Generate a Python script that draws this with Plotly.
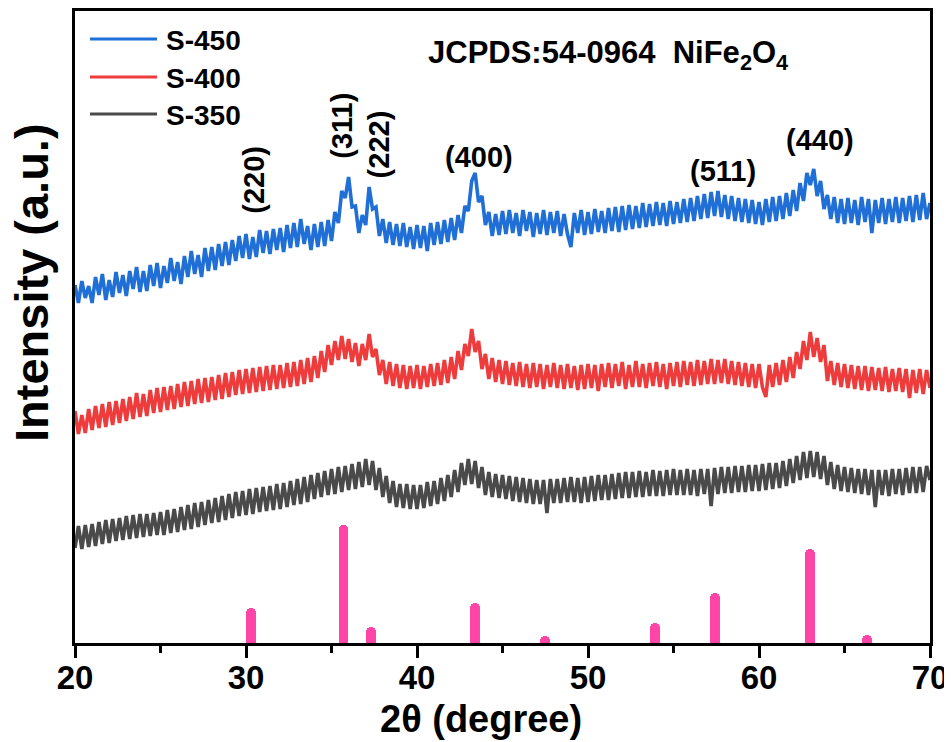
import numpy as np
import plotly.graph_objects as go

# 2theta sampling grid (degrees), 0.2 deg steps from 20 to 70
two_theta = np.round(np.arange(20.0, 70.0001, 0.2), 1)

# Stacked intensities (a.u., offsets included)
s450 = [358, 340, 362, 345, 357, 340, 366, 348, 369, 343,
        363, 346, 371, 350, 368, 347, 372, 354, 376, 351,
        372, 352, 378, 357, 380, 355, 377, 360, 385, 362,
        381, 359, 387, 366, 392, 369, 388, 366, 395, 372,
        396, 373, 399, 377, 401, 378, 403, 382, 407, 385,
        409, 384, 406, 386, 413, 390, 412, 389, 414, 393,
        415, 391, 418, 395, 420, 396, 424, 399, 417, 393,
        419, 396, 421, 397, 423, 402, 431, 420, 452, 445,
        466, 436, 437, 410, 428, 418, 456, 434, 436, 407,
        424, 400, 421, 398, 419, 397, 420, 396, 416, 394,
        418, 395, 417, 392, 420, 398, 421, 399, 423, 401,
        425, 403, 428, 410, 437, 432, 462, 470, 441, 447,
        418, 431, 407, 429, 408, 432, 409, 433, 410, 430,
        407, 433, 412, 431, 406, 430, 409, 433, 408, 431,
        410, 432, 407, 429, 409, 396, 430, 410, 433, 408,
        431, 409, 434, 411, 432, 410, 435, 412, 436, 411,
        437, 413, 438, 414, 437, 415, 440, 416, 439, 417,
        441, 418, 440, 417, 442, 419, 441, 420, 444, 421,
        445, 422, 447, 424, 449, 425, 451, 427, 452, 426,
        448, 424, 447, 422, 445, 421, 444, 420, 443, 419,
        441, 418, 444, 421, 446, 422, 447, 424, 450, 427,
        453, 432, 460, 442, 470, 458, 474, 447, 462, 434,
        448, 424, 446, 420, 444, 419, 445, 420, 443, 418,
        446, 421, 444, 410, 443, 420, 445, 419, 444, 421,
        446, 420, 445, 422, 447, 421, 448, 423, 450, 424,
        440]

s400 = [232, 209, 228, 210, 234, 213, 237, 215, 239, 216,
        241, 218, 242, 220, 244, 222, 246, 224, 250, 226,
        249, 227, 253, 230, 255, 231, 256, 233, 257, 234,
        259, 236, 261, 237, 262, 239, 264, 240, 265, 241,
        266, 243, 268, 244, 270, 246, 271, 248, 273, 249,
        274, 250, 275, 251, 276, 252, 277, 253, 278, 254,
        278, 255, 280, 256, 281, 257, 283, 259, 285, 261,
        287, 265, 292, 271, 298, 278, 302, 283, 307, 284,
        304, 281, 300, 277, 299, 283, 309, 286, 294, 268,
        283, 259, 281, 257, 279, 255, 278, 254, 277, 255,
        278, 254, 277, 256, 279, 257, 280, 258, 283, 260,
        286, 264, 292, 273, 299, 287, 314, 291, 302, 274,
        289, 264, 285, 261, 283, 259, 282, 258, 280, 257,
        281, 256, 279, 255, 280, 256, 279, 254, 278, 256,
        280, 255, 278, 254, 279, 255, 277, 253, 278, 254,
        279, 255, 278, 252, 279, 256, 280, 255, 279, 257,
        281, 254, 278, 256, 282, 256, 279, 255, 280, 257,
        281, 256, 279, 254, 280, 257, 281, 256, 282, 258,
        281, 257, 283, 258, 282, 259, 284, 259, 283, 260,
        284, 259, 282, 258, 281, 257, 280, 256, 279, 255,
        279, 256, 246, 278, 256, 280, 258, 283, 261, 286,
        265, 291, 274, 302, 283, 311, 286, 305, 281, 298,
        262, 282, 258, 280, 256, 279, 255, 278, 254, 277,
        253, 277, 252, 276, 253, 275, 252, 276, 251, 274,
        252, 275, 251, 274, 245, 273, 250, 274, 249, 273,
        255]

s350 = [95, 117, 94, 118, 96, 119, 97, 121, 99, 123,
        100, 124, 102, 125, 103, 127, 104, 128, 105, 129,
        106, 129, 107, 130, 108, 131, 108, 133, 110, 134,
        111, 136, 113, 138, 114, 140, 116, 141, 118, 143,
        120, 145, 121, 147, 123, 149, 125, 151, 127, 152,
        128, 154, 129, 155, 131, 156, 132, 157, 133, 159,
        134, 160, 136, 162, 138, 164, 139, 166, 141, 168,
        144, 170, 146, 172, 148, 174, 149, 176, 151, 177,
        153, 179, 154, 181, 156, 184, 158, 182, 153, 175,
        146, 167, 140, 162, 136, 159, 135, 159, 134, 158,
        134, 158, 135, 161, 137, 162, 139, 165, 142, 168,
        146, 173, 151, 180, 158, 184, 159, 182, 155, 176,
        148, 171, 146, 169, 145, 168, 144, 167, 142, 166,
        141, 165, 140, 164, 139, 163, 139, 163, 130, 164,
        140, 164, 140, 165, 141, 166, 141, 165, 140, 166,
        141, 167, 142, 168, 143, 168, 143, 169, 144, 170,
        145, 171, 145, 171, 146, 172, 146, 171, 147, 173,
        147, 172, 147, 173, 148, 174, 148, 173, 148, 174,
        148, 173, 147, 174, 149, 174, 137, 175, 149, 176,
        150, 176, 150, 177, 151, 177, 151, 178, 152, 178,
        152, 179, 153, 180, 154, 180, 155, 182, 157, 184,
        160, 187, 163, 191, 165, 192, 166, 191, 164, 187,
        158, 181, 154, 178, 152, 176, 151, 175, 150, 174,
        149, 174, 148, 173, 136, 173, 148, 173, 147, 174,
        149, 174, 148, 175, 150, 176, 150, 176, 151, 177,
        163]

series_names = ["S-450", "S-400", "S-350"]
series_colors = ["#1F6FD6", "#EE3B3B", "#4A4A4A"]

# JCPDS 54-0964 NiFe2O4 reference sticks
ref_pos = [30.3, 35.7, 37.3, 43.4, 47.5, 53.9, 57.4, 63.0, 66.3]
ref_int = [35, 118, 16, 40, 7, 20, 50, 94, 8]
ref_color = "#FF45A8"

# Miller-index labels
hkl_text = ["(220)", "(311)", "(222)", "(400)", "(511)", "(440)"]
hkl_x = [30.45, 35.6, 37.8, 43.6, 57.87, 63.55]
hkl_y = [463, 517, 499, 486, 472, 503]
hkl_rot = [-90, -90, -90, 0, 0, 0]

FONT = "Liberation Sans, Arial, sans-serif"

fig = go.Figure()
for name, vals, col in zip(series_names, [s450, s400, s350], series_colors):
    fig.add_trace(go.Scatter(x=two_theta, y=vals, mode="lines", name=name,
                             line=dict(color=col, width=3.6), showlegend=False))

fig.add_trace(go.Bar(x=ref_pos, y=ref_int, width=0.58,
                     marker=dict(color=ref_color, line=dict(width=0), cornerradius=5),
                     showlegend=False))

# The page body has an 8px margin: figure is placed at (8, 8) in the window.
W, H = 944, 734
L, T, R, B = 67, 3, 22, 99
PX0, PY1 = 75, 643          # plot-area left / bottom in window pixels
pw, ph = 855, 632
def px(xp):
    return (xp - PX0) / pw
def py(yp):
    return (PY1 - yp) / ph

shapes = []
annos = []
for i, (name, col) in enumerate(zip(series_names, series_colors)):
    yy = [39, 77, 114][i]
    shapes.append(dict(type="line", xref="paper", yref="paper", x0=px(90), x1=px(157),
                       y0=py(yy), y1=py(yy), line=dict(color=col, width=3)))
    annos.append(dict(text=name, xref="paper", yref="paper", x=px(164), y=py(yy + 1),
                      xanchor="left", yanchor="middle", showarrow=False,
                      font=dict(family=FONT, size=28, color="black", weight="bold")))

annos.append(dict(text="JCPDS:54-0964\u00a0\u00a0NiFe<sub>2</sub>O<sub>4</sub>", xref="paper", yref="paper",
                  x=px(608), y=py(55), xanchor="center", yanchor="middle", showarrow=False,
                  font=dict(family=FONT, size=31, color="black", weight="bold")))

for t, xv, yv, rot in zip(hkl_text, hkl_x, hkl_y, hkl_rot):
    annos.append(dict(text=t, x=xv, y=yv, xref="x", yref="y", showarrow=False, textangle=rot,
                      xanchor="center", yanchor="middle",
                      font=dict(family=FONT, size=29, color="black", weight="bold")))

annos.append(dict(text="2θ (degree)", xref="paper", yref="paper", x=px(481), y=py(719),
                  xanchor="center", yanchor="middle", showarrow=False,
                  font=dict(family=FONT, size=38, color="black", weight="bold")))
annos.append(dict(text="Intensity (a.u.)", xref="paper", yref="paper", x=px(31), y=py(283),
                  xanchor="center", yanchor="middle", showarrow=False, textangle=-90,
                  font=dict(family=FONT, size=47, color="black", weight="bold")))

fig.update_layout(
    width=W, height=H,
    margin=dict(l=L, r=R, t=T, b=B, autoexpand=False),
    paper_bgcolor="white", plot_bgcolor="white",
    shapes=shapes, annotations=annos, bargap=0,
    xaxis=dict(range=[20, 70], tickmode="linear", tick0=20, dtick=10,
               ticks="outside", ticklen=12, tickwidth=2.5, tickcolor="black",
               ticklabelstandoff=-8,
               minor=dict(dtick=5, ticks="outside", ticklen=7, tickwidth=2.5, tickcolor="black"),
               showline=True, linewidth=2.5, linecolor="black", mirror=True,
               showgrid=False, zeroline=False,
               tickfont=dict(family=FONT, size=33, color="black", weight="bold")),
    yaxis=dict(range=[0, 632], showticklabels=False, ticks="",
               showline=True, linewidth=2.5, linecolor="black", mirror=True,
               showgrid=False, zeroline=False),
)

fig.write_html("out.html")
